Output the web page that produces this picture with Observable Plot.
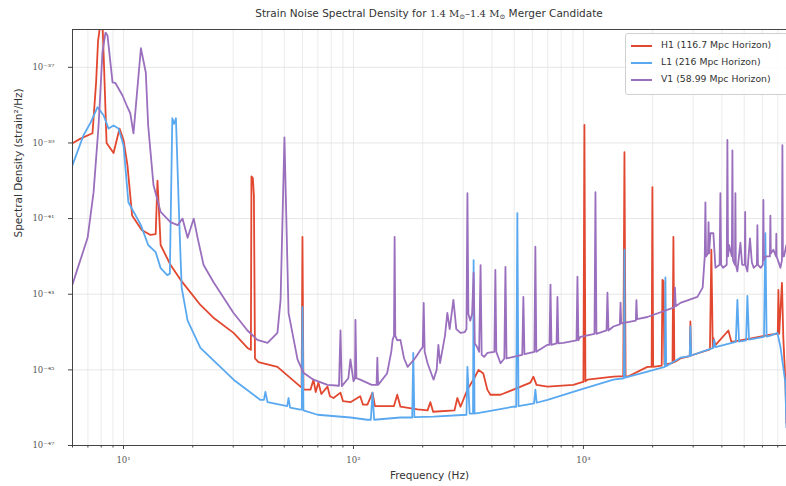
<!DOCTYPE html>
<html>
<head>
<meta charset="utf-8">
<script src="https://cdn.jsdelivr.net/npm/d3@7"></script>
<script src="https://cdn.jsdelivr.net/npm/@observablehq/plot@0.6"></script>
<style>
  html, body { margin: 0; padding: 0; background: #fff; }
  #wrap { position: relative; width: 786px; height: 486px; overflow: hidden; background: #fff; }
  #chart { position: absolute; left: 0; top: 0; }
  #title { position: absolute; left: 72px; width: 714px; top: 5px; text-align: center;
           font-family: "DejaVu Sans", sans-serif; font-size: 10.5px; color: #333; line-height: 16px; }
  #title .m { font-family: "DejaVu Serif", serif; font-size: 10px; }
  #title sub { font-size: 7px; vertical-align: -2px; line-height: 0; }
  #legend { position: absolute; left: 625px; top: 33px; width: 175px; height: 60px;
            border: 1px solid #d0d0d0; border-radius: 3px; background: rgba(255,255,255,0.85);
            font-family: "DejaVu Sans", sans-serif; font-size: 9.3px; color: #333; }
  .row { position: absolute; left: 5px; height: 14px; line-height: 14px; white-space: nowrap; }
  .sw { display: inline-block; width: 21px; height: 2px; vertical-align: middle; margin-right: 9px; }
</style>
</head>
<body>
<div id="wrap">
  <div id="chart"></div>
  <div id="title">Strain Noise Spectral Density for <span class="m">1.4 M<sub>⊙</sub>–1.4 M<sub>⊙</sub></span> Merger Candidate</div>
  <div id="legend"></div>
</div>
<script>
// ---------------- data ----------------
const seriesNames = ["H1 (116.7 Mpc Horizon)", "L1 (216 Mpc Horizon)", "V1 (58.99 Mpc Horizon)"];
const seriesColors = ["#e2472f", "#5aa9f0", "#9a6fbd"];

const h1Freq = [6.0, 6.5, 7.33, 7.6, 7.75, 7.94, 8.1, 8.2, 8.44, 9.05, 9.61, 10.0, 10.4, 10.9, 12.0, 13.1, 13.8, 14.05, 14.3, 14.5,
  16.0, 17.7, 21.6, 24.6, 30.1, 34.6, 35.8, 36.0, 36.5, 36.9, 37.3, 38.6, 46.7, 58.8, 59.5, 60.0, 60.6, 65.0, 67.0, 68.5,
  70.4, 72.5, 77.1, 79.0, 81.9, 87.8, 90.0, 97.0, 107, 110, 115, 121, 124, 150, 155, 160, 190, 210, 216, 222,
  275, 283, 292, 313, 335, 350, 367, 382, 394, 436, 496, 588, 606, 625, 698, 905, 970, 1000, 1010, 1020,
  1041, 1350, 1490, 1508, 1525, 1554, 1898, 1980, 1995, 2010, 2190, 2206, 2230, 2250, 2440, 2462, 2485, 2641, 2900, 2918,
  2940, 3550, 3600, 3650, 3674, 3750, 4270, 4400, 5164, 6501, 7000, 7045, 7100, 7300, 7400, 7555, 7633];
const h1Psd = [9.8e-40, 1.3e-39, 1.8e-39, 4e-38, 5e-37, 1.5e-36, 1.5e-36, 2e-37, 1.0e-39, 5.4e-40, 2.4e-39, 1.2e-39, 2.6e-40, 1.2e-41, 5e-42, 3.7e-42, 3.9e-42, 1.0e-40, 1.2e-41, 2.0e-42,
  6e-43, 2.4e-43, 5.2e-44, 2.4e-44, 9.5e-45, 3.8e-45, 3.4e-45, 1.3e-40, 1.2e-40, 4e-41, 2e-45, 1.6e-45, 1.2e-45, 3.6e-46, 3.4e-46, 3.3e-42, 3.0e-46, 3.0e-46, 5.5e-46, 2.6e-46,
  4.6e-46, 2.3e-46, 3.6e-46, 2.0e-46, 1.8e-46, 2.5e-46, 1.5e-46, 1.4e-46, 2.0e-46, 1.2e-46, 1.2e-46, 2.5e-46, 1.1e-46, 1.1e-46, 2.2e-46, 1.06e-46, 9e-47, 8.5e-47, 1.4e-46, 7.8e-47,
  8.5e-47, 1.8e-46, 1.06e-46, 3e-46, 6e-46, 1e-45, 8e-46, 3e-46, 2.2e-46, 2.2e-46, 3e-46, 4.6e-46, 6.6e-46, 4e-46, 3.6e-46, 4e-46, 4.6e-46, 4.8e-46, 3e-39, 5e-46,
  5.5e-46, 6.6e-46, 6.8e-46, 5.7e-40, 7e-46, 6.6e-46, 1.2e-45, 1.2e-45, 6.8e-41, 1.2e-45, 1.3e-45, 2.4e-43, 2.2e-43, 1.4e-45, 1.5e-45, 3.3e-42, 1.6e-45, 2.0e-45, 2.3e-45, 1.9e-44,
  2.4e-45, 3.5e-45, 1.5e-42, 4e-45, 7e-45, 4.5e-45, 1.1e-44, 5.5e-45, 6.5e-45, 8.5e-45, 9e-45, 1.3e-43, 9e-45, 2e-43, 7e-45, 5e-46, 4e-47];

const l1Freq = [6.0, 6.7, 7.2, 7.71, 8.19, 8.61, 9.05, 9.51, 10.0, 10.5, 11.9, 12.8, 13.8, 14.5, 15.5, 15.9, 16.3, 16.6, 16.9, 17.5,
  17.9, 19.0, 21.6, 30.1, 39.4, 40.8, 41.4, 42.3, 51.5, 52.2, 53.0, 58.8, 59.6, 60.0, 60.6, 69.8, 97, 115, 119, 121,
  123, 160, 180, 182, 184, 223, 310, 313, 320, 331, 333, 336, 357, 496, 510, 516, 522, 610, 618, 626,
  698, 970, 1350, 1500, 1508, 1515, 1898, 2260, 2273, 2290, 2641, 2900, 2918, 2940, 3674, 3700, 3750, 4600, 4672, 4750,
  5100, 5164, 5250, 6100, 6183, 6260, 6501, 6975, 7188, 7555, 7633];
const l1Psd = [2.6e-40, 1.6e-39, 3.5e-39, 8.8e-39, 5.4e-39, 2.4e-39, 2.9e-39, 2.4e-39, 8.7e-40, 2.7e-41, 6.7e-42, 2.0e-42, 1.3e-42, 4.9e-43, 3.2e-43, 3.5e-43, 4.5e-39, 3.2e-39, 4.5e-39, 6.7e-42,
  1.5e-43, 2e-44, 3.8e-45, 5.5e-46, 1.6e-46, 1.6e-46, 2.6e-46, 1.4e-46, 1.1e-46, 1.8e-46, 1.0e-46, 8.9e-47, 8.9e-47, 4.6e-44, 8.5e-47, 6.5e-47, 5.5e-47, 4.8e-47, 4.8e-47, 2.5e-46,
  4.8e-47, 5.5e-47, 5.5e-47, 2.8e-45, 5.6e-47, 5.8e-47, 6.5e-47, 1.2e-45, 7e-47, 7e-47, 8e-43, 7e-47, 7.4e-47, 1.06e-46, 1.06e-46, 1.4e-41, 1.1e-46, 1.3e-46, 3e-46, 1.35e-46,
  1.6e-46, 3e-46, 5.5e-46, 6e-46, 1.5e-42, 6.2e-46, 9e-46, 1.2e-45, 2.8e-43, 1.25e-45, 2.1e-45, 2.3e-45, 1.4e-44, 2.4e-45, 3.8e-45, 6.2e-45, 4e-45, 5.5e-45, 7.1e-44, 5.6e-45,
  6e-45, 9e-44, 6.3e-45, 7.5e-45, 4.1e-42, 7.6e-45, 8e-45, 9.5e-45, 4.1e-45, 4.6e-46, 3e-47];

const v1Freq = [6.0, 6.18, 6.98, 7.41, 7.79, 8.10, 8.35, 8.52, 8.96, 9.23, 9.90, 10.4, 10.7, 11.05, 11.9, 12.5, 12.8, 13.5, 14.5, 16.0,
  17.2, 18.05, 19.0, 20.2, 21.0, 22.3, 24.6, 30.1, 34.6, 38.2, 42.3, 46.7, 48.2, 50.1, 52.2, 57.1, 60.6, 67.0, 77.1, 86.5,
  87.8, 89.0, 95, 97, 100, 101.5, 102, 103, 107, 120, 126, 127, 128, 140, 146, 148, 150, 151, 152, 155,
  160, 166, 172, 185, 196, 200, 202, 204, 210, 223, 230, 234, 238, 250, 256, 262, 272, 280, 292, 305,
  310, 313, 316, 322, 328, 333, 337, 345, 352, 357, 361, 370, 382, 410, 414, 418, 436, 453, 458, 463,
  496, 542, 548, 554, 612, 618, 624, 698, 712, 719, 726, 764, 771, 778, 818, 933, 942, 951, 970, 1117,
  1128, 1139, 1260, 1272, 1285, 1350, 1440, 1450, 1460, 1690, 1700, 1712, 1898, 2480, 2500, 2520, 2641, 3131, 3300, 3370,
  3392, 3415, 3480, 3500, 3520, 3566, 3674, 3750, 3910, 3941, 3970, 4050, 4200, 4227, 4255, 4300, 4420, 4445, 4470, 4560,
  4580, 4600, 4672, 4816, 4900, 5030, 5050, 5070, 5164, 5300, 5400, 5500, 5680, 5708, 5740, 5900, 6030, 6061, 6090, 6200,
  6470, 6501, 6530, 6700, 6880, 6900, 6920, 7188, 7300, 7333, 7370, 7450, 7633];
const v1Psd = [1.8e-43, 3.2e-43, 3.1e-42, 5.0e-41, 2.9e-39, 2.5e-37, 8.3e-37, 6.9e-37, 4.0e-38, 3.8e-38, 1.8e-38, 8.8e-39, 6.1e-39, 1.8e-39, 3.2e-37, 7.3e-38, 2.9e-39, 7.7e-41, 1.5e-41, 8.1e-42,
  6.7e-42, 1.0e-41, 3.1e-42, 1.0e-41, 3.1e-42, 5.9e-43, 2.1e-43, 3.2e-44, 1.1e-44, 6.2e-45, 5.2e-45, 9.5e-45, 7.1e-44, 1.4e-39, 3.2e-44, 1.9e-45, 8.4e-46, 5.5e-46, 4.0e-46, 3.8e-46,
  1.1e-44, 3.7e-46, 6e-46, 1.9e-45, 5e-46, 6e-46, 2.1e-44, 6e-46, 5.5e-46, 4e-46, 4e-46, 2.1e-45, 4e-46, 8e-46, 3e-45, 6.2e-45, 8e-45, 3.3e-42, 8e-45, 6e-45,
  6.2e-45, 2e-45, 1.2e-45, 2e-45, 3.4e-45, 4e-45, 5.9e-44, 3e-45, 1.5e-45, 5.5e-46, 1e-45, 4.6e-45, 1.5e-45, 8e-45, 3.2e-44, 1.2e-44, 7.1e-44, 1.2e-44, 9.5e-45, 1e-44,
  1.2e-44, 4.7e-41, 3e-44, 2e-44, 3e-44, 3.7e-43, 5e-45, 4e-45, 3e-45, 5.9e-43, 2.5e-45, 2.2e-45, 2.8e-45, 3e-45, 4.4e-43, 3e-45, 1.5e-45, 2e-45, 5.3e-43, 2e-45,
  2.2e-45, 2.5e-45, 8.5e-44, 2.6e-45, 3e-45, 1.8e-42, 3e-45, 4.6e-45, 4.6e-45, 1.8e-43, 4.6e-45, 5e-45, 8.5e-44, 5e-45, 5.2e-45, 6e-45, 2.9e-43, 6e-45, 7.5e-45, 9e-45,
  5e-41, 9e-45, 1.1e-44, 1.1e-43, 1.1e-44, 1.4e-44, 1.6e-44, 6e-44, 1.7e-44, 2e-44, 7e-44, 2.2e-44, 2.5e-44, 4.5e-44, 1.5e-43, 4.8e-44, 5.9e-44, 8.5e-44, 1.5e-43, 1e-42,
  2.7e-41, 1e-42, 1.2e-42, 8e-42, 1.2e-42, 4.1e-42, 4.1e-42, 5e-43, 6e-43, 4.7e-41, 6e-43, 5e-43, 6e-43, 1.2e-39, 1e-42, 2e-42, 1e-42, 6.4e-40, 8e-43, 6e-43,
  4.7e-41, 6e-43, 4e-43, 2.3e-42, 6e-43, 6e-43, 1.5e-41, 6e-43, 4e-43, 3e-42, 7e-43, 5e-43, 6e-43, 6.7e-42, 6e-43, 5e-43, 6e-43, 3.1e-41, 8e-43, 1e-42,
  1e-42, 1.2e-41, 1.2e-42, 1.5e-42, 1e-42, 4e-42, 1e-42, 5e-43, 8e-43, 8.7e-40, 1e-42, 1e-42, 2e-42];

const xDomain = [6, 7640];
const yDomain = [1e-47, 1e-36];
const xMajorTicks = [10, 100, 1000];
const xMinorTicks = [6, 7, 8, 9, 20, 30, 40, 50, 60, 70, 80, 90, 200, 300, 400, 500, 600, 700, 800, 900, 2000, 3000, 4000, 5000, 6000, 7000];
const yTicks = [1e-47, 1e-45, 1e-43, 1e-41, 1e-39, 1e-37];
const xLabel = "Frequency (Hz)";
const yLabel = "Spectral Density (strain²/Hz)";

// ---------------- build ----------------
const toRows = (fs, ps) => fs.map((f, i) => ({f, p: ps[i]}));
const series = [toRows(h1Freq, h1Psd), toRows(l1Freq, l1Psd), toRows(v1Freq, v1Psd)];

const sup = {"-": "⁻", "0": "⁰", "1": "¹", "2": "²", "3": "³", "4": "⁴", "5": "⁵", "6": "⁶", "7": "⁷", "8": "⁸", "9": "⁹"};
const pow10 = d => "10" + String(Math.round(Math.log10(d))).split("").map(c => sup[c]).join("");

const axisColor = "#444";
const tickFont = {fontFamily: "DejaVu Serif, serif", fontSize: 8.5, fill: "#555"};

const chart = Plot.plot({
  width: 786,
  height: 486,
  marginTop: 29,
  marginLeft: 72,
  marginRight: 0,
  marginBottom: 41,
  x: {type: "log", domain: xDomain},
  y: {type: "log", domain: yDomain},
  style: {background: "white", fontFamily: "DejaVu Serif, serif", fontSize: "8.5px", color: "#555", overflow: "visible"},
  marks: [
    Plot.gridX(xMinorTicks.concat(xMajorTicks), {stroke: "#e6e6e6", strokeOpacity: 1, strokeWidth: 0.8}),
    Plot.gridY(yTicks, {stroke: "#e0e0e0", strokeOpacity: 1, strokeWidth: 0.8}),
    ...series.map((rows, i) => Plot.line(rows, {x: "f", y: "p", stroke: seriesColors[i], strokeWidth: 1.8, clip: true, strokeLinejoin: "round"})),
    Plot.ruleX([xDomain[0]], {stroke: axisColor, strokeWidth: 1}),
    Plot.ruleY(yDomain, {stroke: axisColor, strokeWidth: 1}),
    Plot.axisX(xMajorTicks, {tickSize: 4, tickPadding: 7, tickFormat: pow10, stroke: axisColor, label: null, ...tickFont}),
    Plot.axisX(xMinorTicks, {tickSize: 2.5, tickFormat: () => "", stroke: axisColor, label: null}),
    Plot.axisY(yTicks, {tickSize: 4, tickPadding: 14, tickFormat: pow10, stroke: axisColor, label: null, ...tickFont}),
    Plot.text([xLabel], {frameAnchor: "bottom", dy: 33, fontFamily: "DejaVu Sans, sans-serif", fontSize: 10.5, fill: "#333"}),
    Plot.text([yLabel], {frameAnchor: "left", dx: -54, rotate: -90, fontFamily: "DejaVu Sans, sans-serif", fontSize: 10.5, fill: "#333"})
  ]
});
document.getElementById("chart").appendChild(chart);

// legend
const legend = document.getElementById("legend");
seriesNames.forEach((name, i) => {
  const row = document.createElement("div");
  row.className = "row";
  row.style.top = (4 + i * 17) + "px";
  const sw = document.createElement("span");
  sw.className = "sw";
  sw.style.background = seriesColors[i];
  row.appendChild(sw);
  row.appendChild(document.createTextNode(name));
  legend.appendChild(row);
});
</script>
</body>
</html>
